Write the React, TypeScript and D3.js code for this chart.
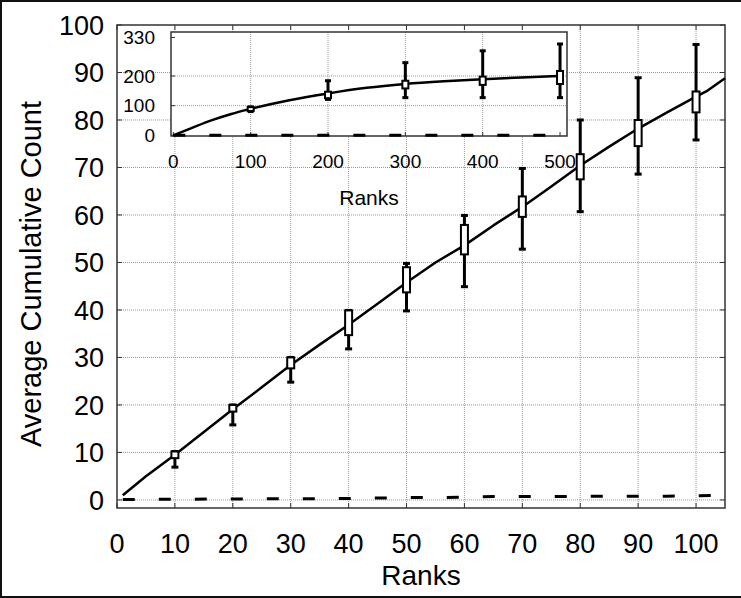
import React from "react";
import * as d3 from "d3";

// ---- main chart data ----
const mainRanks = [1, 5, 10, 15, 20, 25, 30, 35, 40, 45, 50, 55, 60, 65, 70, 75, 80, 85, 90, 95, 100, 102, 105];
const mainMean = [1.0, 5.0, 9.5, 14.3, 19.1, 23.7, 28.4, 32.7, 36.9, 41.3, 45.8, 50.0, 53.6, 57.8, 61.7, 66.0, 70.4, 74.4, 78.2, 81.6, 84.9, 86.2, 88.8];
const baseRanks = [1, 20, 40, 50, 60, 65, 80, 95, 100, 105];
const baseMean = [0.1, 0.2, 0.3, 0.5, 0.55, 0.7, 0.75, 0.8, 0.85, 1.0];
const boxRanks = [10, 20, 30, 40, 50, 60, 70, 80, 90, 100];
const boxLow = [6.9, 15.8, 24.8, 31.8, 39.8, 44.9, 52.8, 60.7, 68.6, 75.8];
const boxQ1 = [8.8, 18.6, 27.7, 34.7, 43.7, 51.7, 59.6, 67.5, 74.5, 81.6];
const boxQ3 = [10.2, 20.0, 30.0, 39.9, 49.0, 57.9, 63.9, 72.8, 80.0, 86.0];
const boxHigh = [10.2, 20.0, 30.0, 39.9, 49.8, 59.9, 69.8, 80.0, 88.9, 95.9];
const xTicks = [0, 10, 20, 30, 40, 50, 60, 70, 80, 90, 100];
const yTicks = [0, 10, 20, 30, 40, 50, 60, 70, 80, 90, 100];

// ---- inset data ----
const insetRanks = [0, 25, 50, 75, 100, 150, 200, 250, 300, 350, 400, 450, 500];
const insetMean = [0, 26, 51, 72, 89, 118, 141, 160, 173, 182, 189, 195, 200];
const insetBaseRanks = [0, 500];
const insetBaseMean = [0, 0];
const insetBoxRanks = [100, 200, 300, 400, 500];
const insetBoxLow = [80, 121, 127, 127, 127];
const insetBoxQ1 = [82, 125, 158, 170, 173];
const insetBoxQ3 = [95, 147, 184, 198, 217];
const insetBoxHigh = [96, 184, 245, 285, 308];
const insetXTicks = [0, 100, 200, 300, 400, 500];
const insetYTicks = [0, 100, 200, 330];
const insetGridY = [100, 200];
const insetGridX = [100, 200, 300, 400];

const FONT = "'Liberation Sans', Arial, Helvetica, sans-serif";

function Boxes({ x, y, ranks, low, q1, q3, high, bw, cw }: any) {
  return (
    <g>
      {ranks.map((r: number, i: number) => {
        const cx = x(r);
        return (
          <g key={r}>
            <line x1={cx} x2={cx} y1={y(low[i])} y2={y(high[i])} stroke="#000" strokeWidth={3} />
            <line x1={cx - cw / 2} x2={cx + cw / 2} y1={y(low[i])} y2={y(low[i])} stroke="#000" strokeWidth={3} />
            <line x1={cx - cw / 2} x2={cx + cw / 2} y1={y(high[i])} y2={y(high[i])} stroke="#000" strokeWidth={3} />
            <rect x={cx - bw / 2} y={y(q3[i])} width={bw} height={Math.max(2, y(q1[i]) - y(q3[i]))} fill="#fff" stroke="#000" strokeWidth={2} />
          </g>
        );
      })}
    </g>
  );
}

export default function App() {
  const W = 741, H = 598;
  const x = d3.scaleLinear().domain([0, 105]).range([117, 725]);
  const y = d3.scaleLinear().domain([-1.7, 100]).range([508, 25]);
  const ix = d3.scaleLinear().domain([-3, 509]).range([171, 567]);
  const iy = d3.scaleLinear().domain([-2.4, 348.4]).range([136, 32]);

  const line = d3.line<number>().x((d, i) => x(mainRanks[i])).y((d) => y(d));
  const baseLine = d3.line<number>().x((d, i) => x(baseRanks[i])).y((d) => y(d));
  const iline = d3.line<number>().x((d, i) => ix(insetRanks[i])).y((d) => iy(d)).curve(d3.curveMonotoneX);
  const ibase = d3.line<number>().x((d, i) => ix(insetBaseRanks[i])).y((d) => iy(d));

  const [x0, x1] = x.range();
  const [yb, yt] = y.range();
  const [ix0, ix1] = ix.range();
  const [iyb, iyt] = iy.range();
  const grid = "#9a9a9a";

  return (
    <svg width={W} height={H} style={{ position: "absolute", left: 0, top: 0, background: "#fff" }} fontFamily={FONT}>
      <rect x={0} y={0} width={W} height={H} fill="#fff" />
      {/* outer frame */}
      <line x1={1} x2={1} y1={0} y2={H} stroke="#111" strokeWidth={2} />
      <line x1={0} x2={W} y1={1} y2={1} stroke="#111" strokeWidth={2} />
      <line x1={0} x2={W} y1={H - 1} y2={H - 1} stroke="#111" strokeWidth={2} />

      {/* main grid */}
      {xTicks.filter((t) => t > 0).map((t) => (
        <line key={"gx" + t} x1={x(t)} x2={x(t)} y1={yt} y2={yb} stroke={grid} strokeWidth={1} strokeDasharray="1,1" />
      ))}
      {yTicks.filter((t) => t < 100).map((t) => (
        <line key={"gy" + t} x1={x0} x2={x1} y1={y(t)} y2={y(t)} stroke={grid} strokeWidth={1} strokeDasharray="1,1" />
      ))}
      {/* ticks */}
      {xTicks.map((t) => (
        <g key={"tx" + t}>
          <line x1={x(t)} x2={x(t)} y1={yb} y2={yb - 5} stroke="#333" />
          <line x1={x(t)} x2={x(t)} y1={yt} y2={yt + 5} stroke="#333" />
        </g>
      ))}
      {yTicks.map((t) => (
        <g key={"ty" + t}>
          <line x1={x0} x2={x0 + 5} y1={y(t)} y2={y(t)} stroke="#333" />
          <line x1={x1} x2={x1 - 5} y1={y(t)} y2={y(t)} stroke="#333" />
        </g>
      ))}
      <rect x={x0} y={yt} width={x1 - x0} height={yb - yt} fill="none" stroke="#333" strokeWidth={1.5} />

      {/* main series */}
      <path d={baseLine(baseMean) || ""} fill="none" stroke="#000" strokeWidth={3} strokeDasharray="12,24" />
      <path d={line(mainMean) || ""} fill="none" stroke="#000" strokeWidth={2.5} strokeLinejoin="round" />
      <Boxes x={x} y={y} ranks={boxRanks} low={boxLow} q1={boxQ1} q3={boxQ3} high={boxHigh} bw={7} cw={7} />

      {/* main tick labels */}
      {xTicks.map((t) => (
        <text key={"lx" + t} x={x(t)} y={553} textAnchor="middle" fontSize={27} fill="#000">{t}</text>
      ))}
      {yTicks.map((t) => (
        <text key={"ly" + t} x={104} y={y(t)} dy="0.36em" textAnchor="end" fontSize={27} fill="#000">{t}</text>
      ))}
      <text x={(x0 + x1) / 2} y={585} textAnchor="middle" fontSize={28} fill="#000">Ranks</text>
      <text transform={`translate(41,${274}) rotate(-90)`} textAnchor="middle" fontSize={29} fill="#000">Average Cumulative Count</text>

      {/* inset */}
      <rect x={ix0} y={iyt} width={ix1 - ix0} height={iyb - iyt} fill="#fff" />
      {insetGridX.map((t) => (
        <line key={"igx" + t} x1={ix(t)} x2={ix(t)} y1={iyt} y2={iyb} stroke={grid} strokeWidth={1} strokeDasharray="1,1" />
      ))}
      {insetGridY.map((t) => (
        <line key={"igy" + t} x1={ix0} x2={ix1} y1={iy(t)} y2={iy(t)} stroke={grid} strokeWidth={1} strokeDasharray="1,1" />
      ))}
      {insetXTicks.map((t) => (
        <line key={"itx" + t} x1={ix(t)} x2={ix(t)} y1={iyb} y2={iyb - 4} stroke="#333" />
      ))}
      {insetYTicks.map((t) => (
        <line key={"ity" + t} x1={ix0} x2={ix0 + 4} y1={iy(t)} y2={iy(t)} stroke="#333" />
      ))}
      <rect x={ix0} y={iyt} width={ix1 - ix0} height={iyb - iyt} fill="none" stroke="#333" strokeWidth={1.5} />
      <path d={ibase(insetBaseMean) || ""} fill="none" stroke="#000" strokeWidth={3} strokeDasharray="12,24" />
      <path d={iline(insetMean) || ""} fill="none" stroke="#000" strokeWidth={2.5} />
      <Boxes x={ix} y={iy} ranks={insetBoxRanks} low={insetBoxLow} q1={insetBoxQ1} q3={insetBoxQ3} high={insetBoxHigh} bw={6} cw={6} />
      {insetXTicks.map((t) => (
        <text key={"ilx" + t} x={ix(t)} y={168} textAnchor="middle" fontSize={19} fill="#000">{t}</text>
      ))}
      {insetYTicks.map((t) => (
        <text key={"ily" + t} x={155} y={iy(t)} dy="0.36em" textAnchor="end" fontSize={19} fill="#000">{t}</text>
      ))}
      <text x={(ix0 + ix1) / 2} y={205} textAnchor="middle" fontSize={21} fill="#000">Ranks</text>
    </svg>
  );
}
